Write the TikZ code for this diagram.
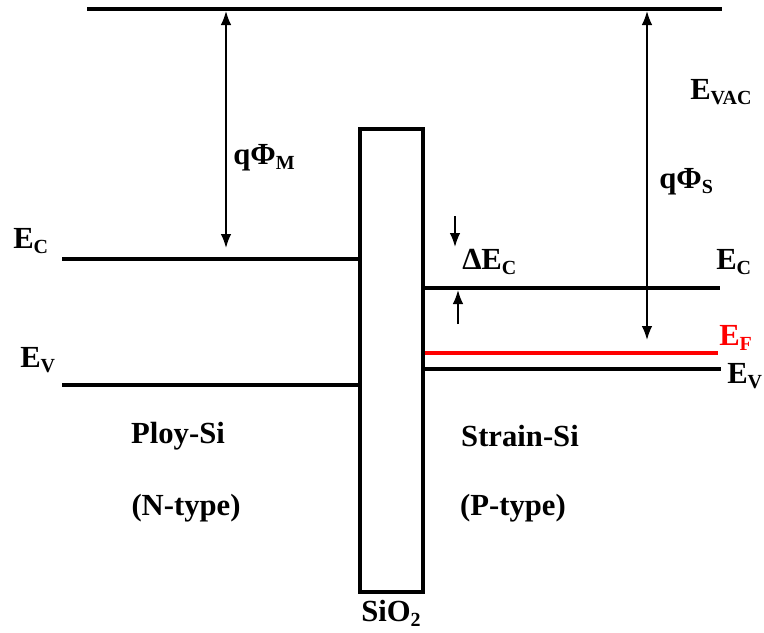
\documentclass[tikz,border=0pt]{standalone}
\usepackage{fontspec}
\setmainfont{Liberation Serif}
\usetikzlibrary{arrows.meta}
\newcommand\mysub[1]{\raisebox{-0.35ex}{\fontsize{15}{15}\selectfont #1}}
\tikzset{
  level/.style={line width=3pt},
  arr/.style={line width=1.3pt,-{Latex[length=10.5pt,width=8pt]}},
  darr/.style={line width=1.3pt,{Latex[length=10.5pt,width=8pt]}-{Latex[length=10.5pt,width=8pt]}},
  lbl/.style={inner sep=0pt,font=\fontsize{23}{27}\selectfont\bfseries},
}
\begin{document}
\begin{tikzpicture}[x=0.75pt,y=-0.75pt]
\useasboundingbox (0,0) rectangle (764,632);
% vacuum level
\coordinate (vacL) at (87,9);
\coordinate (vacR) at (722,9);
\draw[level] (vacL) -- (vacR);
% oxide box
\node[draw,line width=3pt,minimum width=63pt*0.75,minimum height=463pt*0.75,inner sep=0pt,anchor=north west] (ox) at (358,127) {};
% left levels
\coordinate (lEC) at (62,259);
\coordinate (lEV) at (62,385);
\draw[level] (lEC) -- (lEC -| ox.west);
\draw[level] (lEV) -- (lEV -| ox.west);
% right levels
\coordinate (rEC) at (720,288);
\coordinate (rEF) at (718,353);
\coordinate (rEV) at (721,369);
\draw[level] (rEC -| ox.east) -- (rEC);
\draw[level,red] (rEF -| ox.east) -- (rEF);
\draw[level] (rEV -| ox.east) -- (rEV);
% work function arrows
\coordinate (mTop) at (226,11);
\coordinate (mBot) at (226,248);
\draw[darr] (mTop) -- (mBot);
\coordinate (sTop) at (647,11);
\coordinate (sBot) at (647,340);
\draw[darr] (sTop) -- (sBot);
% delta Ec arrows
\coordinate (dA1) at (455,216);
\coordinate (dA2) at (455,247);
\coordinate (dB1) at (458,324);
\coordinate (dB2) at (458,290);
\draw[arr] (dA1) -- (dA2);
\draw[arr] (dB1) -- (dB2);
% labels
\node[lbl,anchor=west] (tM) at (233,158) {qΦ\mysub{M}};
\node[lbl,anchor=west] (tS) at (659,182) {qΦ\mysub{S}};
\node[lbl,anchor=west] (tVAC) at (690,92) {E\mysub{VAC}};
\node[lbl,anchor=west] (tlEC) at (13,241) {E\mysub{C}};
\node[lbl,anchor=west] (tlEV) at (20,360) {E\mysub{V}};
\node[lbl,anchor=west] (tdEC) at (462,262) {ΔE\mysub{C}};
\node[lbl,anchor=west] (trEC) at (716,262) {E\mysub{C}};
\node[lbl,anchor=west,text=red] (trEF) at (719,338) {E\mysub{F}};
\node[lbl,anchor=west] (trEV) at (727,376) {E\mysub{V}};
\node[lbl] (poly) at (178,436) {Ploy-Si};
\node[lbl] (ntype) at (186,508) {(N-type)};
\node[lbl] (strain) at (520,436) {Strain-Si};
\node[lbl] (ptype) at (513,508) {(P-type)};
\node[lbl] (sio2) at (391,613) {SiO\mysub{2}};
\end{tikzpicture}
\end{document}
